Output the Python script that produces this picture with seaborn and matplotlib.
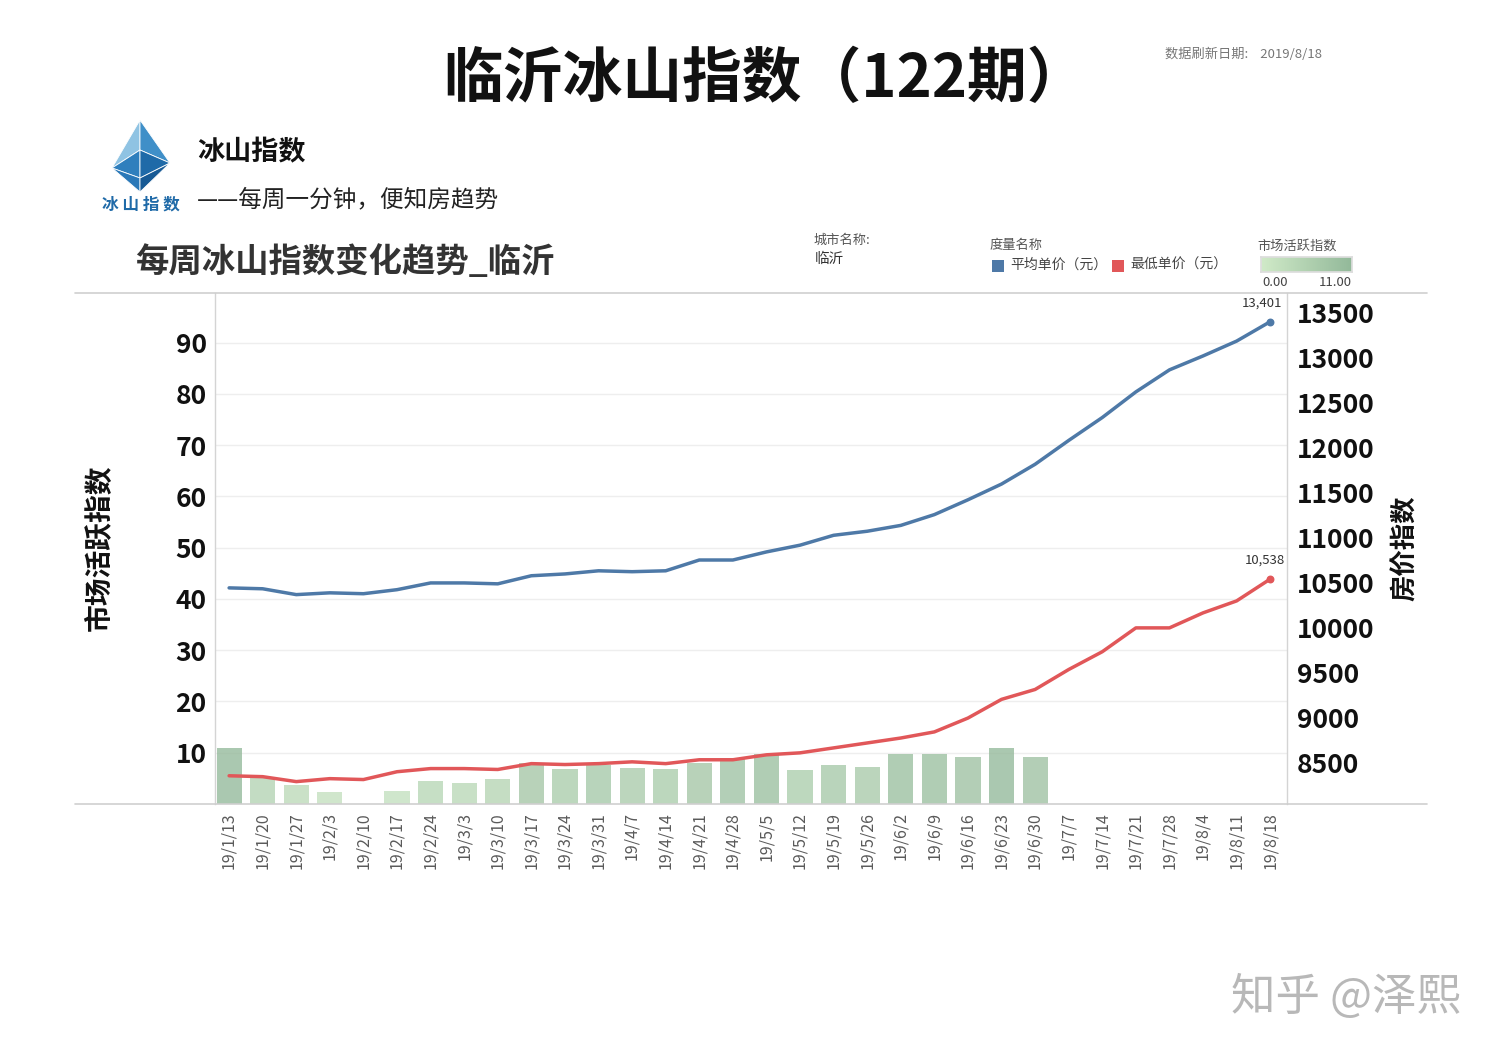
import numpy as np
import pandas as pd
import matplotlib
matplotlib.use("Agg")
import matplotlib.pyplot as plt
from matplotlib.colors import LinearSegmentedColormap, Normalize
from matplotlib.patches import Rectangle, Polygon
from matplotlib.lines import Line2D
import seaborn as sns

# ---------------- data ----------------
dates = ["19/1/13", "19/1/20", "19/1/27", "19/2/3", "19/2/10", "19/2/17", "19/2/24",
         "19/3/3", "19/3/10", "19/3/17", "19/3/24", "19/3/31", "19/4/7", "19/4/14",
         "19/4/21", "19/4/28", "19/5/5", "19/5/12", "19/5/19", "19/5/26", "19/6/2",
         "19/6/9", "19/6/16", "19/6/23", "19/6/30", "19/7/7", "19/7/14", "19/7/21",
         "19/7/28", "19/8/4", "19/8/11", "19/8/18"]
activity = [11.0, 5.2, 3.7, 2.3, 0.0, 2.5, 4.5, 4.1, 4.9, 8.0, 6.8, 7.7, 7.0, 6.8,
            8.0, 8.9, 9.7, 6.6, 7.6, 7.2, 9.7, 9.7, 9.1, 11.0, 9.1,
            np.nan, np.nan, np.nan, np.nan, np.nan, np.nan, np.nan]
avg_price = [10440, 10430, 10365, 10385, 10375, 10420, 10495, 10495, 10485, 10575,
             10595, 10630, 10620, 10630, 10750, 10750, 10840, 10915, 11025, 11070,
             11135, 11255, 11420, 11595, 11815, 12080, 12335, 12620, 12865, 13020,
             13185, 13401]
min_price = [8350, 8340, 8285, 8318, 8308, 8395, 8430, 8430, 8420, 8485, 8475,
             8485, 8505, 8485, 8528, 8528, 8583, 8605, 8660, 8715, 8770, 8838,
             8992, 9200, 9310, 9532, 9730, 9995, 9995, 10162, 10295, 10538]
left_ticks = [10, 20, 30, 40, 50, 60, 70, 80, 90]
right_ticks = [8500, 9000, 9500, 10000, 10500, 11000, 11500, 12000, 12500, 13000, 13500]

df = pd.DataFrame({"date": dates, "activity": activity,
                   "avg": avg_price, "min": min_price})
df["idx"] = np.arange(len(df))

# ---------------- style ----------------
sns.set_theme(style="white")
plt.rcParams["font.family"] = ["Noto Sans CJK SC", "DejaVu Sans"]
plt.rcParams["axes.unicode_minus"] = False

W, H = 1500, 1057
fig = plt.figure(figsize=(W / 100, H / 100), dpi=100)
fig.patch.set_facecolor("white")


def T(x, y, s, **kw):
    return fig.text(x / W, 1 - y / H, s, **kw)


BLUE = "#4e79a7"
RED = "#e15759"
cmap = LinearSegmentedColormap.from_list("g", ["#d0eac8", "#93b99a"])
norm = Normalize(0, 11)

# ---------------- main axes ----------------
L, R, TOP, BOT = 215, 1287, 293, 804
ax = fig.add_axes([L / W, 1 - BOT / H, (R - L) / W, (BOT - TOP) / H])
sns.barplot(data=df, x="idx", y="activity", ax=ax, color="#cccccc", width=0.75,
            native_scale=False)
for p, v in zip(ax.patches, activity):
    if np.isfinite(v):
        p.set_facecolor(cmap(norm(v)))
        p.set_alpha(0.78)
    p.set_edgecolor("none")
ax.set_xlim(-0.42, len(dates) - 0.5)
ax.set_ylim(0, 99.7)
ax.set_yticks(left_ticks)
ax.set_yticklabels([str(t) for t in left_ticks], fontsize=19, fontweight="bold",
                   color="#111111")
ax.set_xticks(range(len(dates)))
ax.set_xticklabels(dates, rotation=90, fontsize=11.5, color="#5a5a5a")
ax.tick_params(axis="x", length=0, pad=6)
ax.tick_params(axis="y", length=0, pad=6)
ax.set_xlabel("")
ax.set_ylabel("")
ax.grid(axis="y", color="#eeeeee", linewidth=1)
ax.set_axisbelow(True)
for s in ["top", "bottom"]:
    ax.spines[s].set_visible(False)
for s in ["left", "right"]:
    ax.spines[s].set_color("#d4d4d4")
    ax.spines[s].set_linewidth(1)

ax2 = ax.twinx()
sns.lineplot(data=df, x="idx", y="avg", ax=ax2, color=BLUE, linewidth=2.5)
sns.lineplot(data=df, x="idx", y="min", ax=ax2, color=RED, linewidth=2.5)
ax2.scatter([df["idx"].iloc[-1]], [avg_price[-1]], color=BLUE, s=22, zorder=5)
ax2.scatter([df["idx"].iloc[-1]], [min_price[-1]], color=RED, s=22, zorder=5)
ax2.annotate(f"{avg_price[-1]:,}", (df["idx"].iloc[-1], avg_price[-1]),
             xytext=(-6, 9), textcoords="offset points", ha="center", va="bottom",
             fontsize=9.5, color="#333333")
ax2.annotate(f"{min_price[-1]:,}", (df["idx"].iloc[-1], min_price[-1]),
             xytext=(-4, 9), textcoords="offset points", ha="center", va="bottom",
             fontsize=9.5, color="#333333")
ax2.set_ylim(8036, 13720)
ax2.set_yticks(right_ticks)
ax2.set_yticklabels([str(t) for t in right_ticks], fontsize=19, fontweight="bold",
                    color="#111111")
ax2.tick_params(axis="y", length=0, pad=7)
ax2.set_xlim(-0.42, len(dates) - 0.5)
ax2.set_xlabel("")
ax2.set_ylabel("")
ax2.grid(False)
for s in ax2.spines.values():
    s.set_visible(False)

# frame lines spanning wider than the plot
for yy in (TOP, BOT):
    fig.add_artist(Line2D([75 / W, 1427 / W], [1 - yy / H, 1 - yy / H],
                          color="#cfcfcf", linewidth=1.2))

# axis titles
T(100, 548, "市场活跃指数", rotation=90, ha="center", va="center", fontsize=20,
  fontweight="bold", color="#111111")
T(1405, 548, "房价指数", rotation=90, ha="center", va="center", fontsize=19,
  fontweight="bold", color="#111111")

# ---------------- header ----------------
T(765, 80, "临沂冰山指数（122期）", ha="center", va="center", fontsize=43,
  fontweight="bold", color="#111111")
T(1165, 54, "数据刷新日期:    2019/8/18", ha="left", va="center", fontsize=9.5,
  color="#777777")

# logo
lax = fig.add_axes([95 / W, 1 - 215 / H, 100 / W, 100 / H])
lax.set_xlim(95, 195)
lax.set_ylim(215, 115)
lax.axis("off")
polys = [
    ([(140, 120), (112, 168), (140, 150)], "#8fc3e3"),
    ([(140, 120), (140, 150), (170, 163)], "#3f8fc8"),
    ([(112, 168), (140, 150), (140, 178)], "#2f7fbd"),
    ([(140, 150), (170, 163), (140, 178)], "#1f6aa8"),
    ([(112, 168), (140, 178), (140, 192)], "#2a78b8"),
    ([(140, 178), (170, 163), (140, 192)], "#175a95"),
]
for pts, c in polys:
    lax.add_patch(Polygon(pts, closed=True, facecolor=c, edgecolor="white",
                          linewidth=0.6))
T(141, 204, "冰 山 指 数", ha="center", va="center", fontsize=12,
  fontweight="bold", color="#1f6aa8")
T(197, 152, "冰山指数", ha="left", va="center", fontsize=19.5, fontweight="bold",
  color="#111111")
T(197, 200, "——每周一分钟，便知房趋势", ha="left", va="center", fontsize=17,
  fontweight="medium", color="#222222")

T(135, 262, "每周冰山指数变化趋势_临沂", ha="left", va="center", fontsize=24,
  fontweight="bold", color="#333333")

# legends
T(813, 240, "城市名称:", ha="left", va="center", fontsize=9.5, color="#555555")
T(815, 259, "临沂", ha="left", va="center", fontsize=10.5, color="#333333")
T(990, 246, "度量名称", ha="left", va="center", fontsize=9.5, color="#555555")
fig.add_artist(Rectangle((992 / W, 1 - 272 / H), 12 / W, 12 / H,
                         transform=fig.transFigure, facecolor=BLUE, edgecolor="none"))
T(1010, 265, "平均单价（元）", ha="left", va="center", fontsize=10, color="#444444")
fig.add_artist(Rectangle((1112 / W, 1 - 272 / H), 12 / W, 12 / H,
                         transform=fig.transFigure, facecolor=RED, edgecolor="none"))
T(1130, 265, "最低单价（元）", ha="left", va="center", fontsize=10, color="#444444")
T(1257, 246, "市场活跃指数", ha="left", va="center", fontsize=9.5, color="#555555")
cax = fig.add_axes([1261 / W, 1 - 272 / H, 91 / W, 15 / H])
cax.imshow(np.linspace(0, 11, 100)[None, :], aspect="auto", cmap=cmap, norm=norm)
cax.set_xticks([])
cax.set_yticks([])
for s in cax.spines.values():
    s.set_color("#dddddd")
T(1262, 283, "0.00", ha="left", va="center", fontsize=9.5, color="#444444")
T(1352, 283, "11.00", ha="right", va="center", fontsize=9.5, color="#444444")

# watermark
T(1346, 997, "知乎 @泽熙", ha="center", va="center", fontsize=32, color="#b8b8b8")

fig.savefig("out.png", dpi=100, facecolor="white")
